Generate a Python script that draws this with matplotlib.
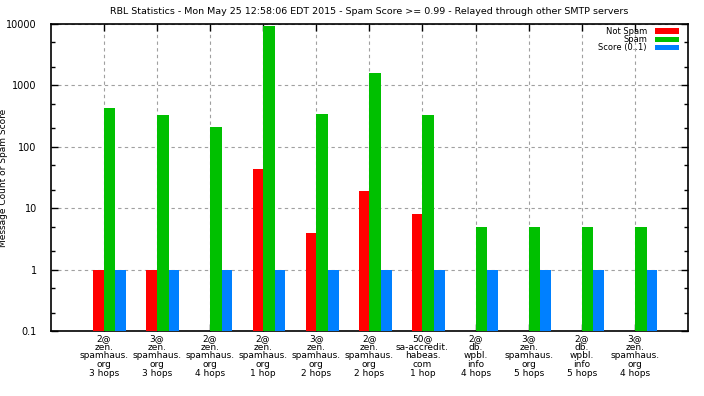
import numpy as np
import matplotlib
matplotlib.use("Agg")
import matplotlib.pyplot as plt
from matplotlib.ticker import LogLocator, FixedLocator, FixedFormatter, NullFormatter
from matplotlib.patches import Rectangle

categories = [
    "2@\nzen.\nspamhaus.\norg\n3 hops",
    "3@\nzen.\nspamhaus.\norg\n3 hops",
    "2@\nzen.\nspamhaus.\norg\n4 hops",
    "2@\nzen.\nspamhaus.\norg\n1 hop",
    "3@\nzen.\nspamhaus.\norg\n2 hops",
    "2@\nzen.\nspamhaus.\norg\n2 hops",
    "50@\nsa-accredit.\nhabeas.\ncom\n1 hop",
    "2@\ndb.\nwpbl.\ninfo\n4 hops",
    "3@\nzen.\nspamhaus.\norg\n5 hops",
    "2@\ndb.\nwpbl.\ninfo\n5 hops",
    "3@\nzen.\nspamhaus.\norg\n4 hops",
]
not_spam = [1, 1, 0, 43, 4, 19, 8, 0, 0, 0, 0]
spam = [430, 330, 210, 9300, 340, 1600, 330, 5, 5, 5, 5]
score = [1, 1, 1, 1, 1, 1, 1, 1, 1, 1, 1]

series_names = ["Not Spam", "Spam", "Score (0..1)"]
colors = ["#ff0000", "#00c000", "#0080ff"]
y_ticks = [0.1, 1, 10, 100, 1000, 10000]
y_ticklabels = ["0.1", "1", "10", "100", "1000", "10000"]

title = "RBL Statistics - Mon May 25 12:58:06 EDT 2015 - Spam Score >= 0.99 - Relayed through other SMTP servers"

plt.rcParams['font.family'] = ['DejaVu Sans']
W, H = 704, 396
fig = plt.figure(figsize=(W / 100, H / 100), dpi=100)
ax_l, ax_r, ax_t, ax_b = 50.7, 688.0, 24.0, 331.0
ax = fig.add_axes([ax_l / W, 1 - ax_b / H, (ax_r - ax_l) / W, (ax_b - ax_t) / H])

x = np.arange(1, len(categories) + 1)
offsets = [(-0.1, 0.2), (0.11, 0.22), (0.32, 0.2)]
base = 0.1
for vals, col, (off, w) in zip([not_spam, spam, score], colors, offsets):
    v = np.array(vals, dtype=float)
    mask = v > 0
    ax.bar(x[mask] + off, v[mask] - base, bottom=base, width=w, color=col,
           linewidth=0, zorder=3)

ax.set_yscale("log")
ax.set_ylim(0.1, 10000)
ax.set_xlim(0, len(categories) + 1)

ax.yaxis.set_major_locator(FixedLocator(y_ticks))
ax.yaxis.set_major_formatter(FixedFormatter(y_ticklabels))
ax.yaxis.set_minor_locator(LogLocator(base=10, subs=[2, 5]))
ax.yaxis.set_minor_formatter(NullFormatter())
ax.set_xticks(x)
ax.set_xticklabels(categories, fontsize=6.5, linespacing=0.97)

ax.tick_params(axis="both", which="both", direction="in", top=True, right=True,
               labelsize=6.5, color="black")
ax.tick_params(axis="both", which="major", length=5, width=1)
ax.tick_params(axis="y", which="minor", length=3, width=1)
ax.tick_params(axis="x", pad=2)
ax.tick_params(axis="y", pad=10)
for lab in ax.get_yticklabels():
    lab.set_fontfamily(['Liberation Sans Narrow', 'DejaVu Sans'])
    lab.set_fontsize(7)

ax.grid(True, which="major", axis="both", color="#a0a0a0", linestyle=(0, (3, 3)),
        linewidth=0.8, zorder=0)
ax.grid(False, which="minor")
for s in ax.spines.values():
    s.set_linewidth(1.2)
    s.set_color("black")

ax.set_ylabel("Message Count or Spam Score", fontsize=6.5)
ax.yaxis.set_label_coords(-(ax_l - 8) / (ax_r - ax_l), 0.5)
fig.text(((ax_l + ax_r) / 2) / W, 1 - 12 / H, title, fontsize=6.8, ha="center", va="center")

# legend (gnuplot style: right-aligned text followed by colour swatch)
row_y = [31.0, 39.3, 47.6]
for name, col, ry in zip(series_names, colors, row_y):
    fig.text(647 / W, 1 - ry / H, name, fontsize=6, ha="right", va="center")
    fig.patches.append(Rectangle((655 / W, 1 - (ry + 2.6) / H), 24 / W, 5.2 / H,
                                 transform=fig.transFigure, facecolor=col,
                                 edgecolor="none", zorder=5))

fig.savefig("out.png", dpi=100)
